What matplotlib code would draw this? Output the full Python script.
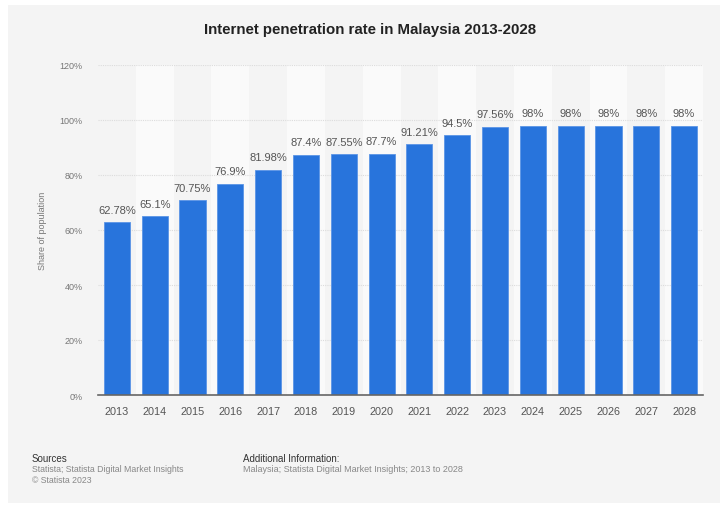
import matplotlib.pyplot as plt
from matplotlib.patches import Rectangle

years = ["2013", "2014", "2015", "2016", "2017", "2018", "2019", "2020",
         "2021", "2022", "2023", "2024", "2025", "2026", "2027", "2028"]
rates = [62.78, 65.1, 70.75, 76.9, 81.98, 87.4, 87.55, 87.7,
         91.21, 94.5, 97.56, 98, 98, 98, 98, 98]
labels = ["62.78%", "65.1%", "70.75%", "76.9%", "81.98%", "87.4%", "87.55%", "87.7%",
          "91.21%", "94.5%", "97.56%", "98%", "98%", "98%", "98%", "98%"]
yticks = [0, 20, 40, 60, 80, 100, 120]

plt.rcParams['font.family'] = ['Liberation Sans', 'DejaVu Sans']

bg = '#f4f4f4'
fig = plt.figure(figsize=(7.2, 5.06), dpi=100)
fig.patch.set_facecolor('white')
# grey card behind everything
fig.add_artist(Rectangle((8/720, 2/506), 712/720, 498/506, transform=fig.transFigure,
                         facecolor=bg, edgecolor='none', zorder=-10))

ax = fig.add_axes([98/720, 1 - 396/506, 605/720, 330/506])
ax.set_facecolor(bg)

# alternating column bands
for i in range(len(years)):
    if i % 2 == 1:
        ax.axvspan(i - 0.5, i + 0.5, color='#fafafa', zorder=0, lw=0)

for y in yticks[1:]:
    ax.axhline(y, color='#dcdcdc', lw=0.8, ls=(0, (1, 1)), zorder=1)

xs = range(len(years))
bars = ax.bar(xs, rates, width=0.69, color='#2874dc', edgecolor='#5b95e6', lw=0.6, zorder=2)
for x, v, t in zip(xs, rates, labels):
    ax.text(x, v + 2.7, t, ha='center', va='bottom', fontsize=8, color='#555555')

ax.set_xlim(-0.5, 15.5)
ax.set_ylim(0, 120)
ax.set_xticks(list(xs))
ax.set_xticklabels(years, fontsize=7.8, color='#555555')
ax.set_yticks(yticks)
ax.set_yticklabels([f"{v}%" for v in yticks], fontsize=6.5, color='#777777')
ax.tick_params(axis='both', length=0)
ax.tick_params(axis='x', pad=8)
ax.tick_params(axis='y', pad=11)
for s in ['top', 'right', 'left']:
    ax.spines[s].set_visible(False)
ax.spines['bottom'].set_color('#666666')
ax.spines['bottom'].set_linewidth(1.2)
ax.spines['bottom'].set_zorder(3)
ax.set_ylabel("Share of population", fontsize=6.5, color='#777777')
ax.yaxis.set_label_coords(-(98 - 47) / 605, 0.5)

fig.text(370/720, 1 - 30/506, "Internet penetration rate in Malaysia 2013-2028",
         ha='center', va='center', fontsize=10.8, fontweight='bold', color='#222222')

fig.text(32/720, 1 - 459/506, "Sources", fontsize=7, color='#333333', va='center')
fig.text(32/720, 1 - 470/506, "Statista; Statista Digital Market Insights",
         fontsize=6.3, color='#888888', va='center')
fig.text(32/720, 1 - 481/506, "\u00a9 Statista 2023", fontsize=6.3, color='#888888', va='center')
fig.text(243/720, 1 - 459/506, "Additional Information:", fontsize=7, color='#333333', va='center')
fig.text(243/720, 1 - 470/506, "Malaysia; Statista Digital Market Insights; 2013 to 2028",
         fontsize=6.5, color='#888888', va='center')

fig.savefig("out.png", dpi=100, facecolor=fig.get_facecolor())
